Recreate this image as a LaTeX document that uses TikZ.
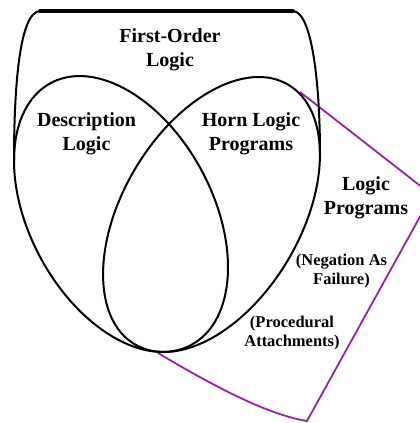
\documentclass[tikz,border=0pt]{standalone}
\usepackage{fontspec}
\setmainfont{Liberation Serif}
\definecolor{lppurple}{RGB}{150,35,165}
\tikzset{
  vennline/.style={draw=black, line width=2pt},
  fotop/.style={draw=black, line width=3.8pt, line cap=round},
  lpline/.style={draw=lppurple, line width=1.8pt, line join=miter},
  biglabel/.style={align=center, inner sep=0pt, font=\fontsize{20}{24}\selectfont\bfseries},
  smalllabel/.style={align=center, inner sep=0pt, font=\fontsize{16.5}{19.5}\selectfont\bfseries}
}
\begin{document}
\begin{tikzpicture}[x=1pt,y=1pt]
\useasboundingbox (0,0) rectangle (420,423);
\fill[white] (0,0) rectangle (420,423);
\clip (0,0) rectangle (420,423);
% Logic Programs region
\draw[lpline] (300,331) -- (432,228) -- (307,2) .. controls (270,8) and (220,33) .. (158,70);
% Description Logic ellipse
\draw[vennline, rotate around={-61.8:(121,209)}] (121,209) ellipse (148.6 and 91.6);
% Horn Logic Programs ellipse
\draw[vennline, rotate around={59.4:(211.5,208.5)}] (211.5,208.5) ellipse (150.8 and 89);
% First-Order Logic outline
\draw[vennline] (14,262) .. controls (14,340) and (20,411) .. (40,412);
\draw[vennline] (293,412) .. controls (312,411) and (320,340) .. (320,268);
\draw[fotop] (40,412) -- (293,412);
% Labels
\node[biglabel] (fol) at (170,373.5) {First-Order\\Logic};
\node[biglabel] (dl) at (86.5,289.3) {Description\\Logic};
\node[biglabel] (hlp) at (251,289.3) {Horn Logic\\Programs};
\node[biglabel] (lp) at (366,225) {Logic\\Programs};
\node[smalllabel] (naf) at (341.5,152.2) {(Negation As\\Failure)};
\node[smalllabel] (pa) at (292,90) {(Procedural\\Attachments)};
\end{tikzpicture}
\end{document}
